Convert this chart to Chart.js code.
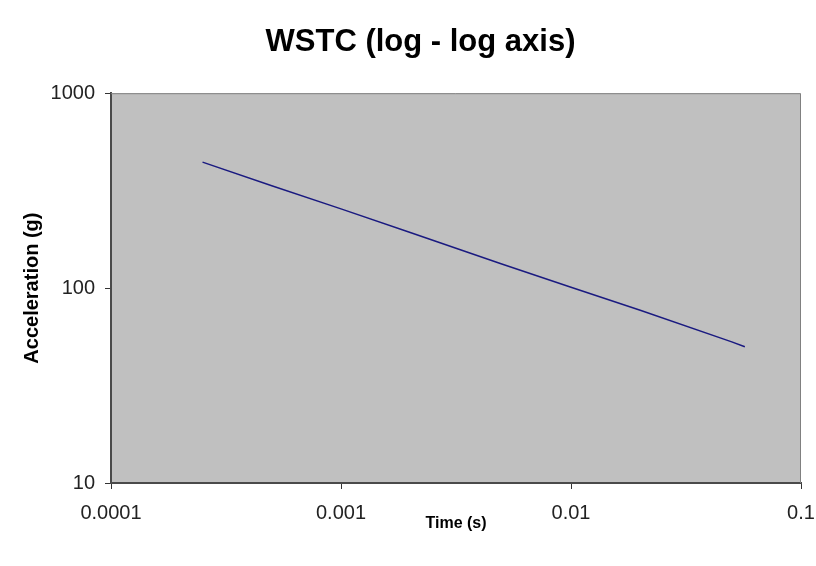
<!DOCTYPE html>
<html><head><meta charset="utf-8">
<script src="https://cdn.jsdelivr.net/npm/chart.js@4/dist/chart.umd.min.js"></script>
<style>html,body{margin:0;padding:0;background:#fff;overflow:hidden;}</style>
</head><body>
<canvas id="c" width="816" height="566" style="display:block;width:816px;height:566px"></canvas>
<script>
// Data
const timeValues  = [0.00025, 0.0005, 0.001, 0.002, 0.005, 0.01, 0.02, 0.05, 0.057];
const accelValues = [443, 335, 255, 193, 133, 101, 77, 53, 50];
const xTickValues = [0.0001, 0.001, 0.01, 0.1];
const yTickValues = [10, 100, 1000];
const chartTitle = 'WSTC (log - log axis)';
const xTitle = 'Time (s)';
const yTitle = 'Acceleration (g)';

const FONT = "'Liberation Sans', Arial, sans-serif";
const points = timeValues.map((t, i) => ({x: t, y: accelValues[i]}));

const plotBg = {
  id: 'plotBg',
  afterLayout(chart) {
    // shift the centre of the chart title to match the reference
    if (chart.titleBlock) { chart.titleBlock.left = 40; }
  },
  beforeDraw(chart) {
    const {ctx, chartArea: a} = chart;
    ctx.save();
    ctx.fillStyle = '#C0C0C0';
    ctx.fillRect(a.left, a.top, a.right - a.left, a.bottom - a.top);
    ctx.restore();
  },
  beforeDatasetsDraw(chart) {
    const {ctx, chartArea: a} = chart;
    ctx.save();
    ctx.strokeStyle = '#808080';
    ctx.lineWidth = 1;
    ctx.beginPath();
    ctx.moveTo(a.left, a.top + 0.5);
    ctx.lineTo(a.right - 0.5, a.top + 0.5);
    ctx.lineTo(a.right - 0.5, a.bottom);
    ctx.stroke();
    ctx.restore();
  }
};

new Chart(document.getElementById('c'), {
  type: 'line',
  data: {
    datasets: [{
      data: points,
      borderColor: '#1a1a80',
      borderWidth: 1.5,
      pointRadius: 0,
      fill: false,
      tension: 0
    }]
  },
  options: {
    responsive: false,
    animation: false,
    devicePixelRatio: 1,
    layout: {padding: {left: 0, right: 15, top: 0, bottom: 0}},
    plugins: {
      legend: {display: false},
      tooltip: {enabled: false},
      title: {
        display: true,
        text: chartTitle,
        color: '#000',
        font: {family: FONT, size: 31, weight: 'bold'},
        padding: {top: 24, bottom: 32}
      }
    },
    scales: {
      x: {
        type: 'logarithmic',
        min: 0.0001,
        max: 0.1,
        afterBuildTicks: s => { s.ticks = xTickValues.map(v => ({value: v, major: true})); },
        afterFit: s => { s.height = 83; s.paddingLeft = 0; s.paddingRight = 0; },
        ticks: {
          callback: v => String(v),
          color: '#222',
          font: {family: FONT, size: 20},
          padding: 12,
          maxRotation: 0,
          autoSkip: false
        },
        grid: {display: true, drawOnChartArea: false, drawTicks: true, tickLength: 6, color: '#333', lineWidth: 1},
        border: {display: true, color: '#4a4a4a', width: 2},
        title: {
          display: true,
          text: xTitle,
          color: '#000',
          font: {family: FONT, size: 16, weight: 'bold'},
          padding: {top: 0, bottom: 33}
        }
      },
      y: {
        type: 'logarithmic',
        min: 10,
        max: 1000,
        afterBuildTicks: s => { s.ticks = yTickValues.map(v => ({value: v, major: true})); },
        afterFit: s => { s.width = 111; s.paddingTop = 0; s.paddingBottom = 0; },
        ticks: {
          callback: v => String(v),
          color: '#222',
          font: {family: FONT, size: 20},
          padding: 10,
          autoSkip: false
        },
        grid: {display: true, drawOnChartArea: false, drawTicks: true, tickLength: 6, color: '#333', lineWidth: 1},
        border: {display: true, color: '#4a4a4a', width: 2},
        title: {
          display: true,
          text: yTitle,
          color: '#000',
          font: {family: FONT, size: 20, weight: 'bold'},
          padding: {top: 20, bottom: 0}
        }
      }
    }
  },
  plugins: [plotBg]
});
</script>
</body></html>
